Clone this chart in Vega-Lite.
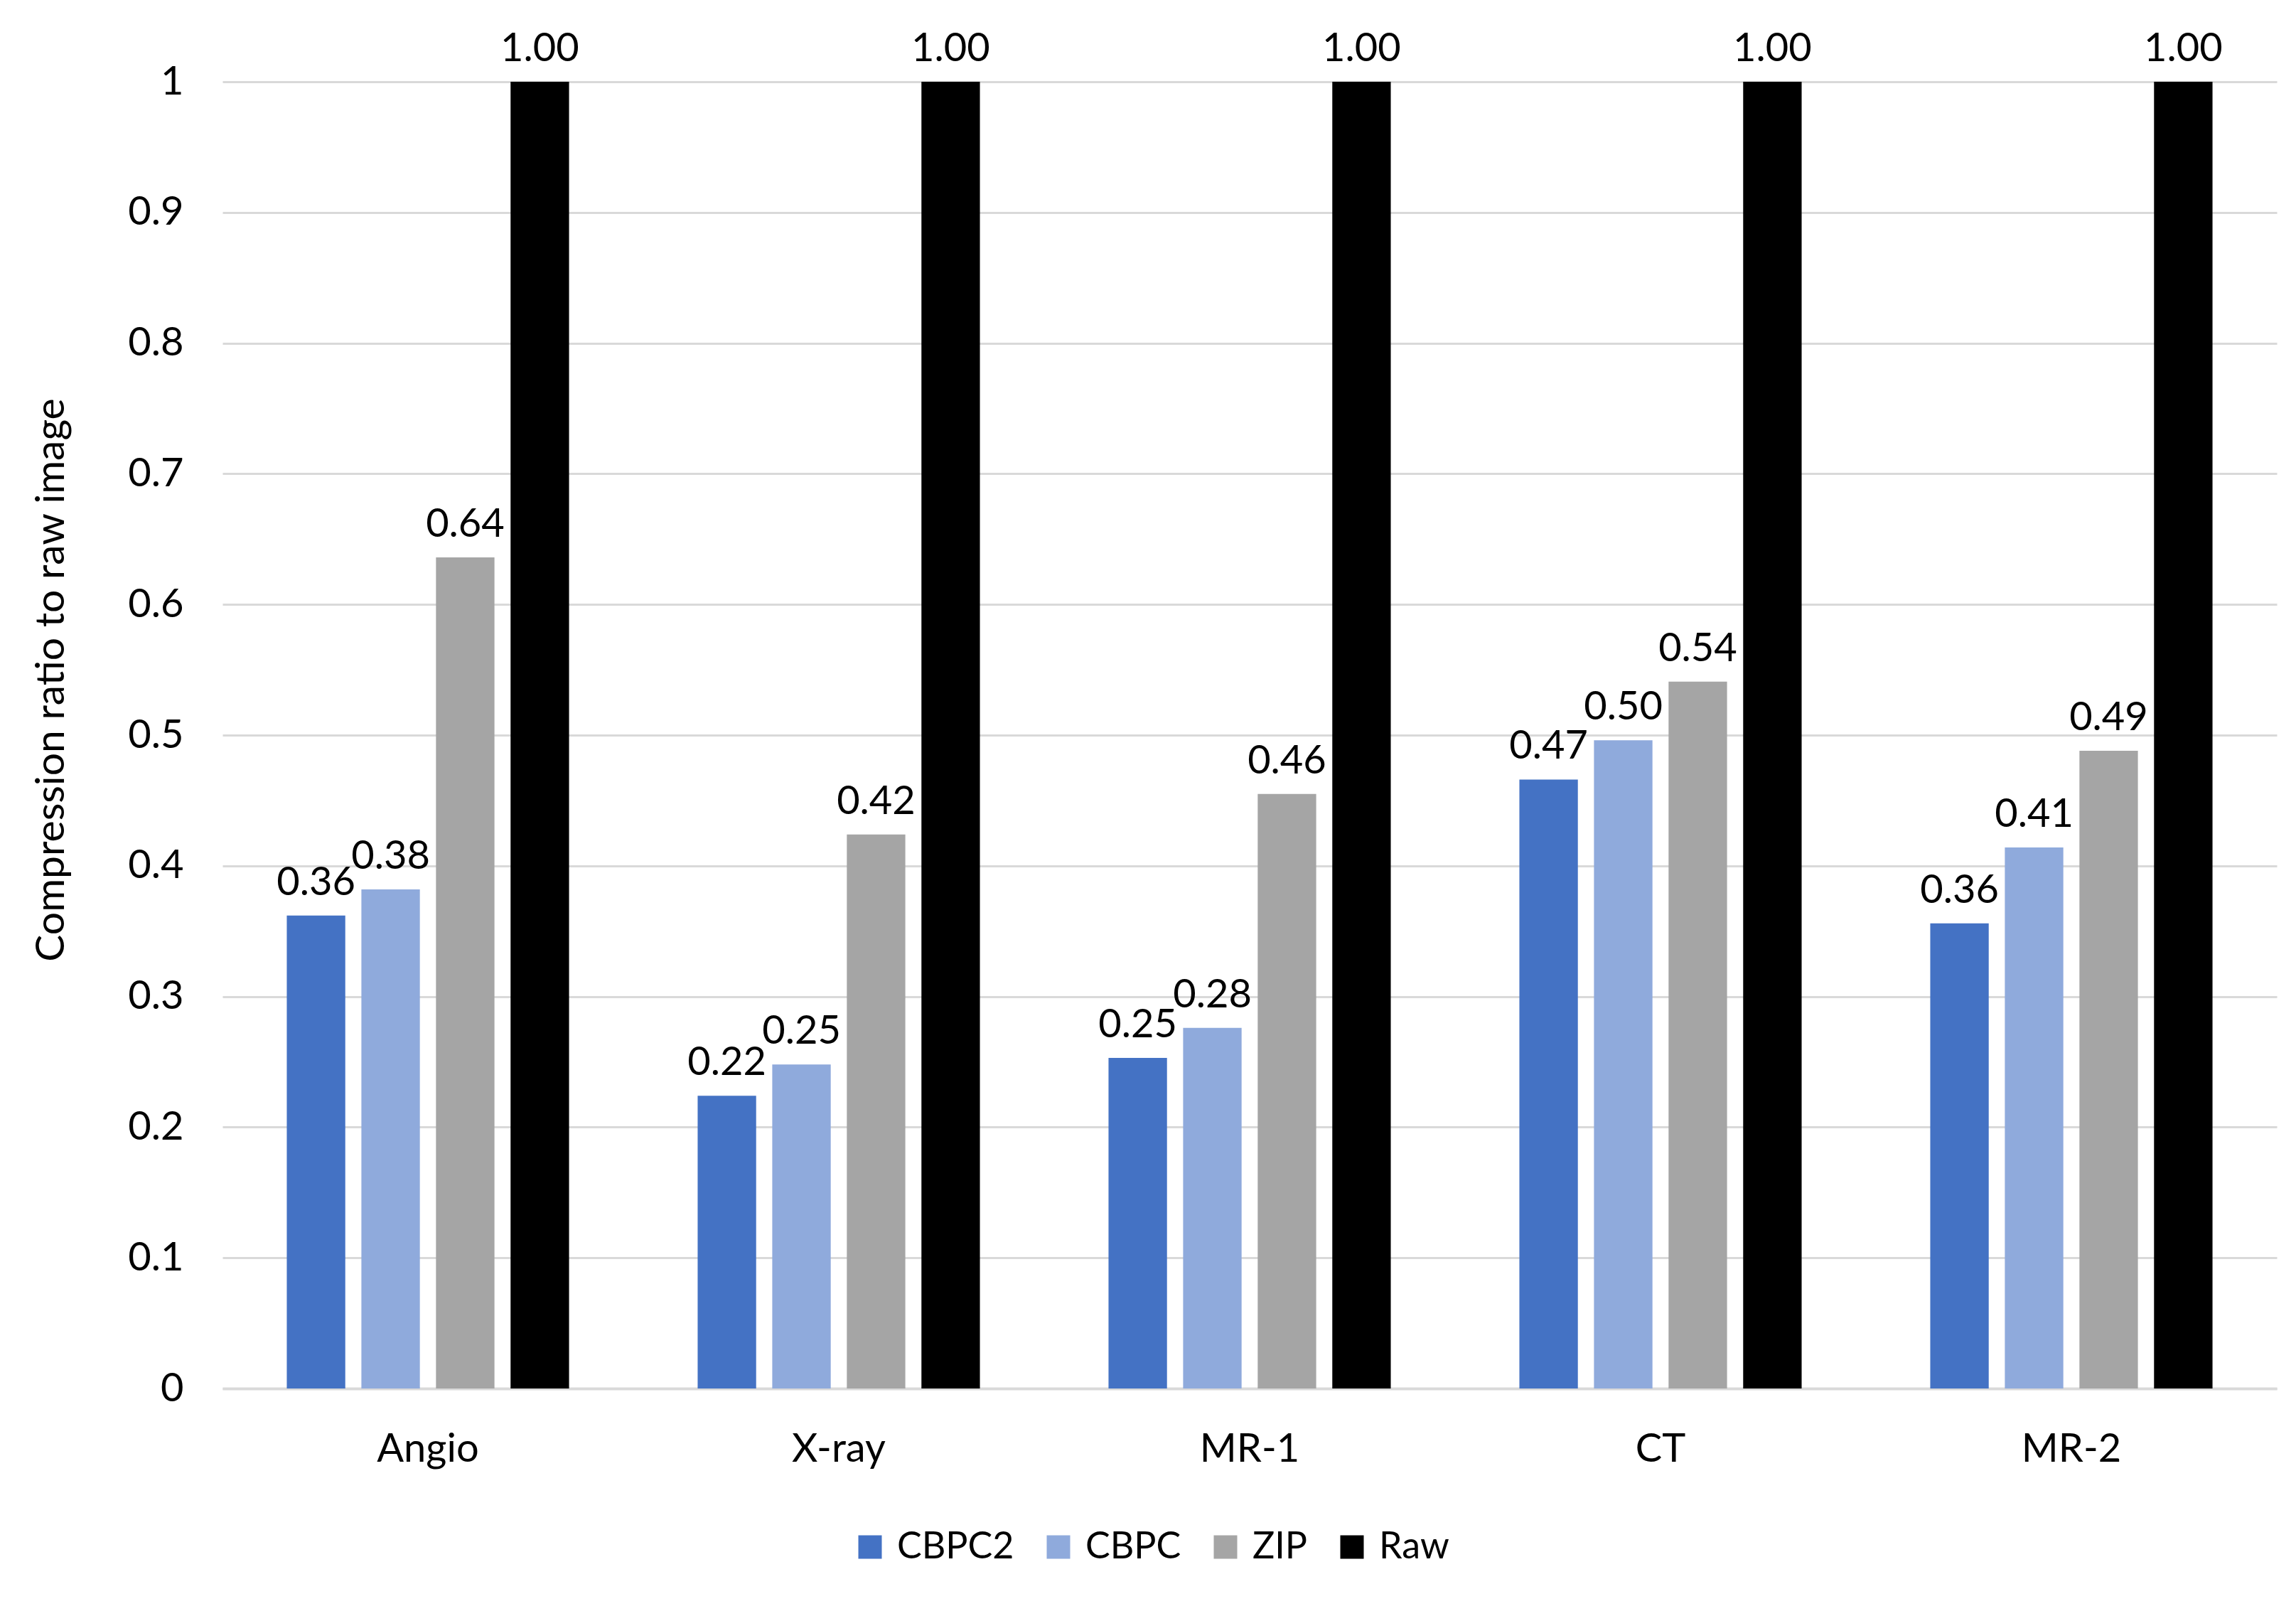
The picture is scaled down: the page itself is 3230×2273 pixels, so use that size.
{
  "$schema": "https://vega.github.io/schema/vega-lite/v6.json",
  "width": 2890,
  "height": 1838,
  "autosize": {"type": "none"},
  "padding": {"left": 313, "top": 115, "right": 27, "bottom": 320},
  "background": "white",
  "config": {
    "font": "Lato",
    "view": {"stroke": null},
    "axis": {"labelFont": "Lato", "titleFont": "Lato", "labelColor": "#000000", "titleColor": "#000000"}
  },
  "data": {
    "values": [
      {"image": "Angio", "method": "CBPC2", "ratio": 0.362},
      {"image": "Angio", "method": "CBPC", "ratio": 0.382},
      {"image": "Angio", "method": "ZIP", "ratio": 0.636},
      {"image": "Angio", "method": "Raw", "ratio": 1.0},
      {"image": "X-ray", "method": "CBPC2", "ratio": 0.224},
      {"image": "X-ray", "method": "CBPC", "ratio": 0.248},
      {"image": "X-ray", "method": "ZIP", "ratio": 0.424},
      {"image": "X-ray", "method": "Raw", "ratio": 1.0},
      {"image": "MR-1", "method": "CBPC2", "ratio": 0.253},
      {"image": "MR-1", "method": "CBPC", "ratio": 0.276},
      {"image": "MR-1", "method": "ZIP", "ratio": 0.455},
      {"image": "MR-1", "method": "Raw", "ratio": 1.0},
      {"image": "CT", "method": "CBPC2", "ratio": 0.466},
      {"image": "CT", "method": "CBPC", "ratio": 0.496},
      {"image": "CT", "method": "ZIP", "ratio": 0.541},
      {"image": "CT", "method": "Raw", "ratio": 1.0},
      {"image": "MR-2", "method": "CBPC2", "ratio": 0.356},
      {"image": "MR-2", "method": "CBPC", "ratio": 0.414},
      {"image": "MR-2", "method": "ZIP", "ratio": 0.488},
      {"image": "MR-2", "method": "Raw", "ratio": 1.0}
    ]
  },
  "encoding": {
    "x": {
      "field": "image", "type": "nominal",
      "sort": ["Angio", "X-ray", "MR-1", "CT", "MR-2"],
      "scale": {"paddingInner": 0.313, "paddingOuter": 0.1565},
      "axis": {
        "title": null, "labelAngle": 0, "labelFontSize": 56, "labelPadding": 58,
        "labelBaseline": "top", "ticks": false, "domainColor": "#d9d9d9", "domainWidth": 4
      }
    },
    "xOffset": {
      "field": "method", "type": "nominal",
      "sort": ["CBPC2", "CBPC", "ZIP", "Raw"],
      "scale": {"paddingInner": 0.216, "paddingOuter": 0}
    },
    "y": {
      "field": "ratio", "type": "quantitative",
      "scale": {"domain": [0, 1], "nice": false},
      "axis": {
        "title": "Compression ratio to raw image", "titleFontSize": 57, "titleFontWeight": "normal",
        "titleX": -241, "titleY": 841, "titleAngle": -90, "titleAlign": "center", "titleBaseline": "middle",
        "values": [0, 0.1, 0.2, 0.3, 0.4, 0.5, 0.6, 0.7, 0.8, 0.9, 1],
        "labelExpr": "datum.value == 0 ? '0' : datum.value == 1 ? '1' : format(datum.value, '.1f')",
        "labelFontSize": 56, "labelPadding": 55, "ticks": false, "domain": false,
        "grid": true, "gridColor": "#d9d9d9", "gridWidth": 3
      }
    }
  },
  "layer": [
    {
      "mark": {"type": "bar"},
      "encoding": {
        "color": {
          "field": "method", "type": "nominal",
          "sort": ["CBPC2", "CBPC", "ZIP", "Raw"],
          "scale": {"domain": ["CBPC2", "CBPC", "ZIP", "Raw"], "range": ["#4472C4", "#8FAADC", "#A5A5A5", "#000000"]},
          "legend": {
            "title": null, "orient": "none", "direction": "horizontal",
            "legendX": 885, "legendY": 2035, "padding": 0,
            "symbolType": "square", "symbolSize": 1089, "symbolStrokeWidth": 0,
            "labelFontSize": 52, "labelFont": "Lato", "labelColor": "#000000", "labelLimit": 400,
            "labelOffset": 12, "columnPadding": 36
          }
        }
      }
    },
    {
      "mark": {"type": "text", "baseline": "bottom", "dy": -17, "fontSize": 56, "font": "Lato", "color": "#000000"},
      "encoding": {
        "text": {"field": "ratio", "type": "quantitative", "format": ".2f"}
      }
    }
  ]
}
